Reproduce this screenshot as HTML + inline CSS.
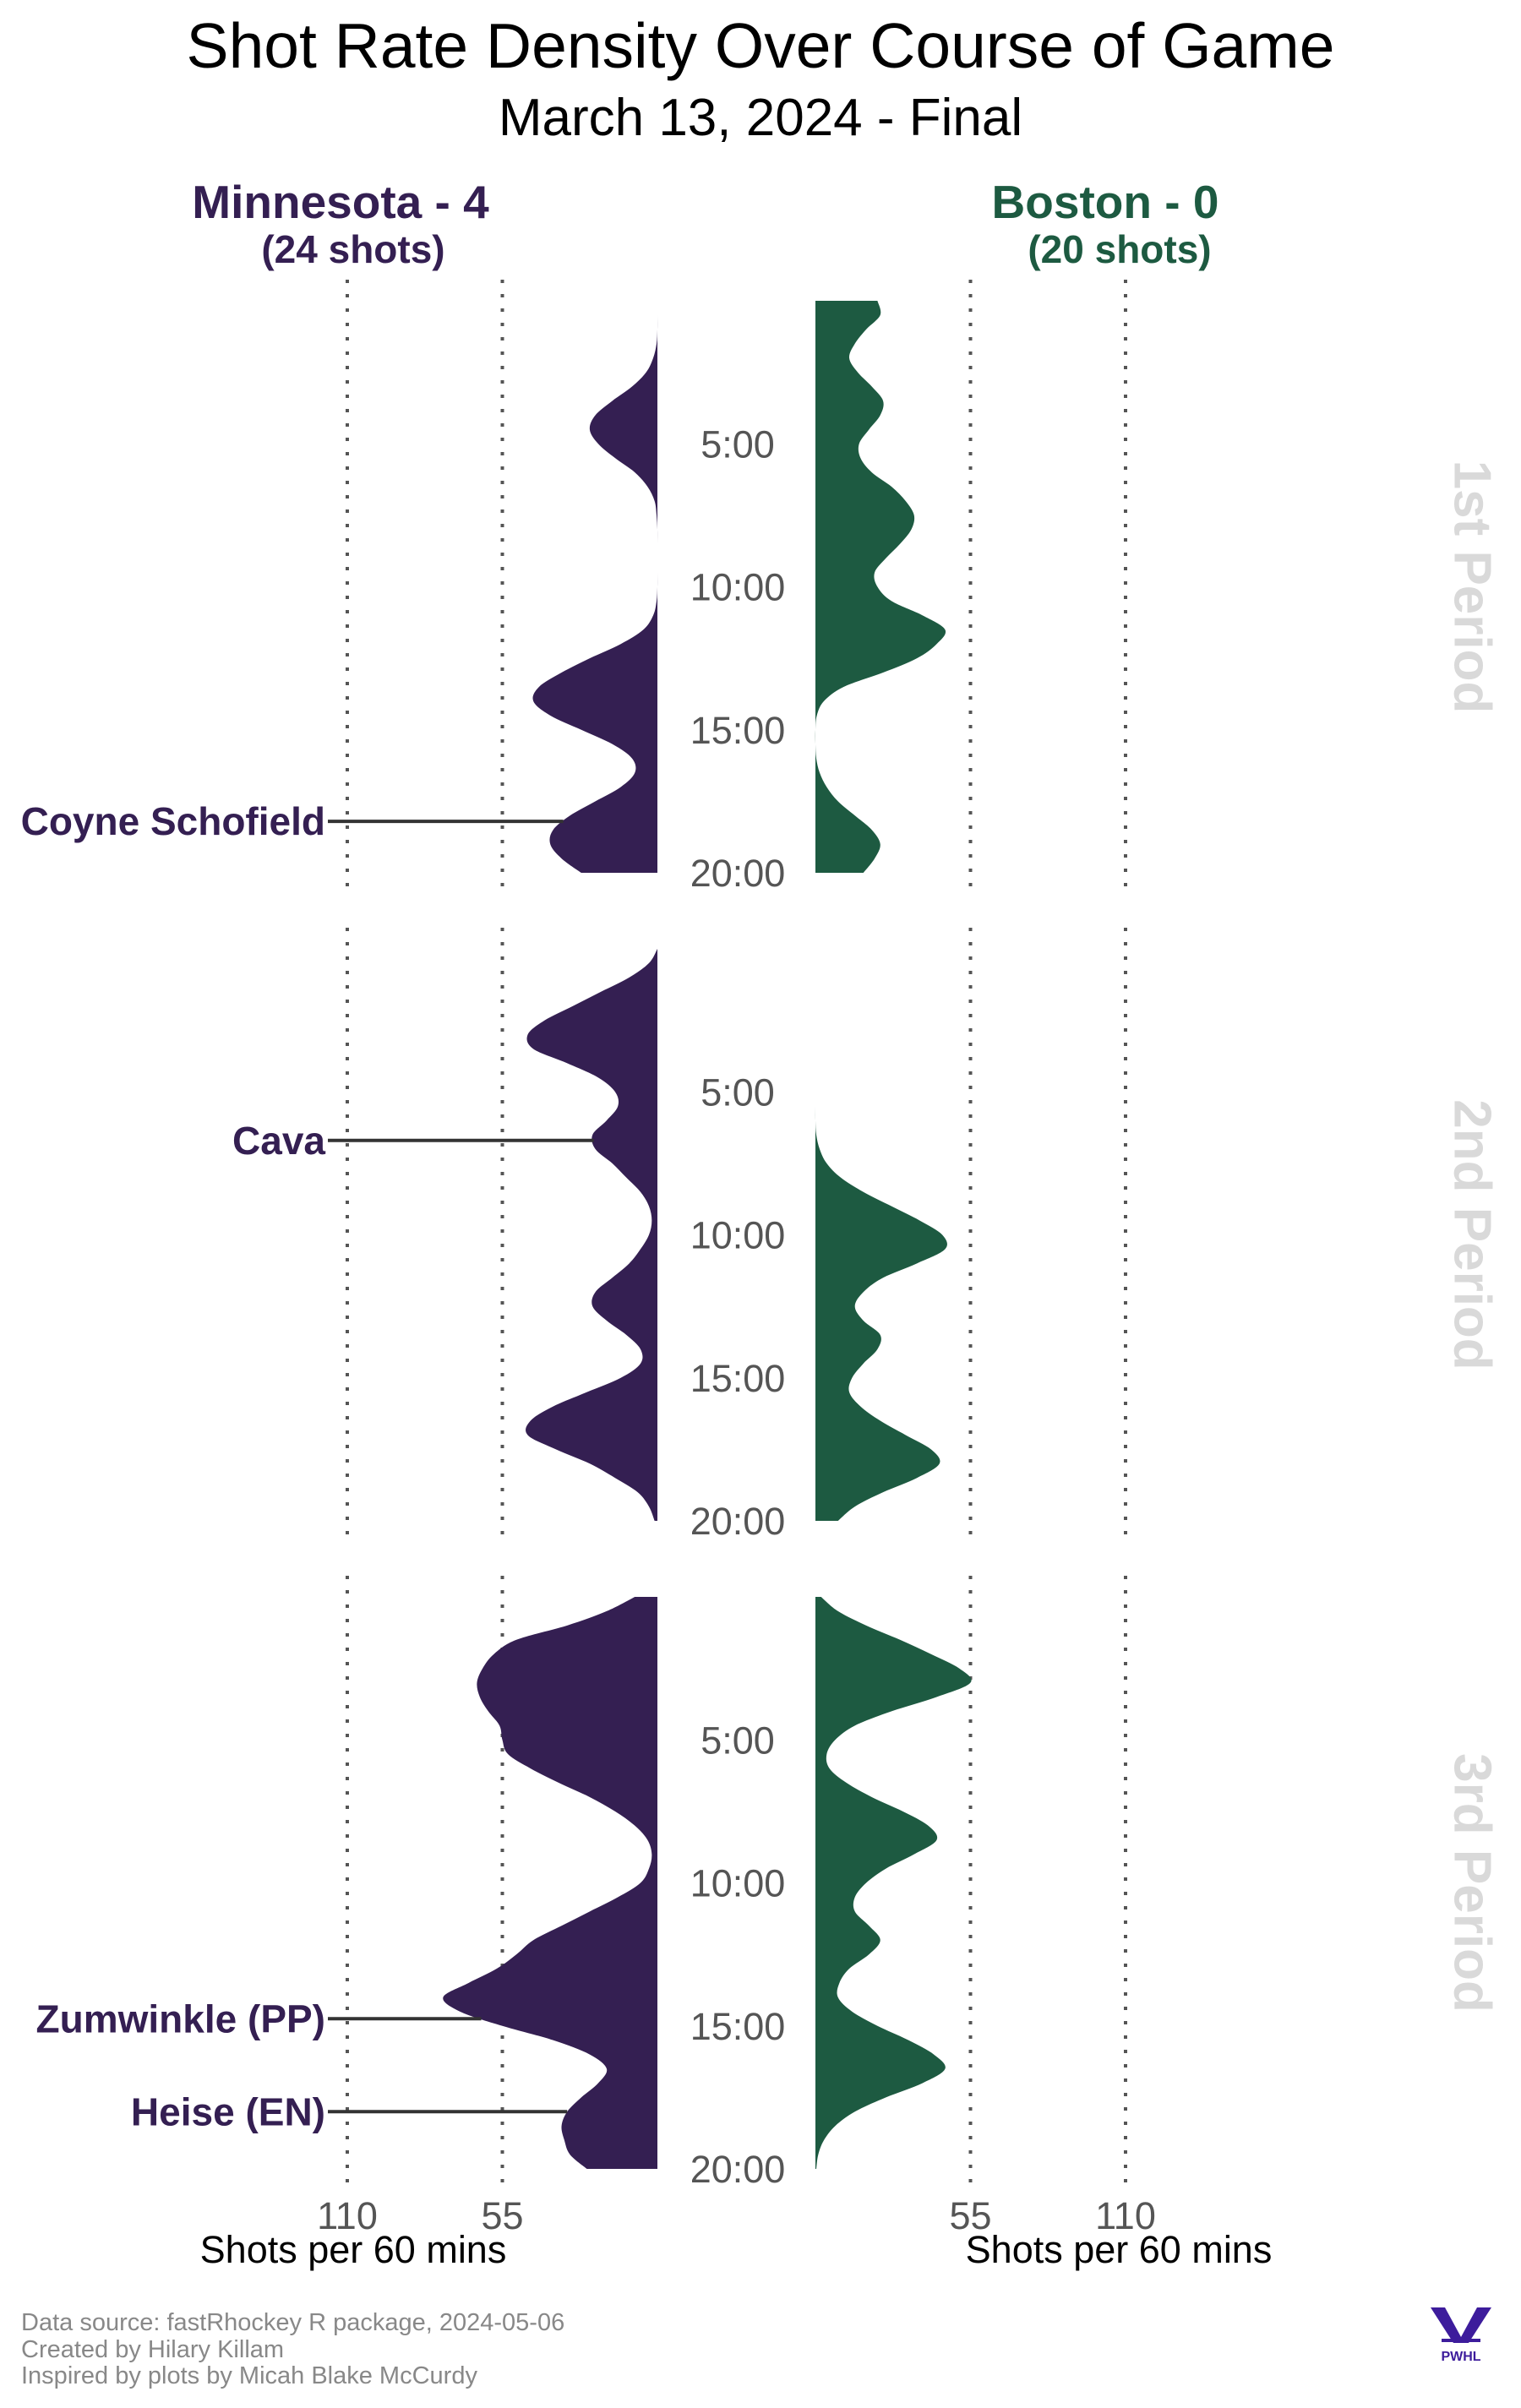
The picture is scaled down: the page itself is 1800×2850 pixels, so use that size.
<!DOCTYPE html>
<html><head><meta charset="utf-8"><style>
html,body{margin:0;padding:0;background:#fff;}
svg{display:block;font-family:"Liberation Sans",sans-serif;}
</style></head><body>
<svg id="chart" width="1800" height="2850" viewBox="0 0 1800 2850" xmlns="http://www.w3.org/2000/svg">
<text x="900" y="80" text-anchor="middle" font-size="75" fill="#000">Shot Rate Density Over Course of Game</text>
<text x="900" y="160" text-anchor="middle" font-size="62" fill="#000">March 13, 2024 - Final</text>
<text x="403" y="258" text-anchor="middle" font-size="55" font-weight="bold" fill="#341f52">Minnesota - 4</text>
<text x="418" y="311" text-anchor="middle" font-size="46" font-weight="bold" fill="#341f52">(24 shots)</text>
<text x="1308" y="258" text-anchor="middle" font-size="55" font-weight="bold" fill="#1d5a41">Boston - 0</text>
<text x="1325" y="311" text-anchor="middle" font-size="46" font-weight="bold" fill="#1d5a41">(20 shots)</text>
<g id="plot"></g>
<text x="418" y="2678" text-anchor="middle" font-size="45" fill="#000">Shots per 60 mins</text>
<text x="1324" y="2678" text-anchor="middle" font-size="45" fill="#000">Shots per 60 mins</text>
<g font-size="29" fill="#888">
<text x="25" y="2758">Data source: fastRhockey R package, 2024-05-06</text>
<text x="25" y="2790">Created by Hilary Killam</text>
<text x="25" y="2821">Inspired by plots by Micah Blake McCurdy</text>
</g>
<g fill="#3d1c9c">
<polygon points="1693,2731 1710,2731 1729,2766 1748,2731 1765,2731 1738,2773 1720,2773"/>
<rect x="1706" y="2768" width="46" height="4"/>
<text x="1729" y="2794" text-anchor="middle" font-size="16" font-weight="bold">PWHL</text>
</g>
</svg>
<script>
const minutes = [0,0.5,1,1.5,2,2.5,3,3.5,4,4.5,5,5.5,6,6.5,7,7.5,8,8.5,9,9.5,10,10.5,11,11.5,12,12.5,13,13.5,14,14.5,15,15.5,16,16.5,17,17.5,18,18.5,19,19.5,20];
const minP1 = [0,0,0,0.3,1.5,4,9,16,22,24,21,15,8,3.5,1,0.3,0,0,0,0,0,0.3,1.5,5,13,24,34,42,44,38,27,16,9,8,13,22,31,37,38,34,27];
const minP2 = [0,3,10,20,30,40,46,44,32,21,15,14,18,23,22,16,11,6,3,2,3,6,10,16,22,23,18,11,6,6,13,25,37,45,46,36,24,15,7,3,1];
const minP3 = [8,18,32,50,58,62,64,63,60,56,55,53,45,35,24,15,8,3.5,2,3,6,14,24,34,44,50,57,67,76,70,55,37,24,18,21,27,32,34,33,31,25];
const bosP1 = [22,23,18,14,12,15,20,24,23,19,15.5,16,20,27,32,35,34,30,25,21,22,27,38,46,43,36,24,10,3,0.5,0,0,0.3,1.5,4,8,14,20,23,21,17];
const bosP2 = [0,0,0,0,0,0,0,0,0,0,0,0,0,0.3,1.5,4,9,17,27,37,45,46,36,24,17,14,17,23,22,17,13,12,16,23,32,41,44,36,24,14,8];
const bosP3 = [2,8,18,30,41,51,55,43,27,14,7,4,5,11,20,31,40,43,35,25,18,14,14,19,23,19,12,8.5,8,13,22,33,42,46,38,25,14,7,3,1,0.3];
const periodNames = ["1st Period","2nd Period","3rd Period"];
const tickTimes = [5,10,15,20];
const tickLabels = ["5:00","10:00","15:00","20:00"];
const gridValues = [55,110];
const gridLabels = ["55","110"];
const goalScorers = ["Coyne Schofield","Cava","Zumwinkle (PP)","Heise (EN)"];
const goalPeriods = [0,1,2,2];
const goalTimes = [18.2,6.7,14.75,18.0];

const NS="http://www.w3.org/2000/svg";
const plot=document.getElementById('plot');
const LBASE=778, RBASE=965, UNIT=183.5/55;
const P_TOP=[356,1123,1890], SPAN=677;
function yScale(p,t){return P_TOP[p]+t/20*SPAN;}
function xLeft(v){return LBASE-v*UNIT;}
function xRight(v){return RBASE+v*UNIT;}
function mk(tag,attrs){const e=document.createElementNS(NS,tag);for(const k in attrs)e.setAttribute(k,attrs[k]);return e;}
function interp(arr,t){const i=Math.min(Math.floor(t/0.5),arr.length-2);const f=(t-minutes[i])/0.5;return arr[i]*(1-f)+arr[i+1]*f;}
function densityPath(p,arr,xf,base){
  const pts=minutes.map((m,i)=>[xf(arr[i]),yScale(p,m)]);
  let d=`M${base},${pts[0][1]} L${pts[0][0]},${pts[0][1]}`;
  for(let i=0;i<pts.length-1;i++){
    const p0=pts[Math.max(i-1,0)],p1=pts[i],p2=pts[i+1],p3=pts[Math.min(i+2,pts.length-1)];
    const c1x=p1[0]+(p2[0]-p0[0])/6,c1y=p1[1]+(p2[1]-p0[1])/6;
    const c2x=p2[0]-(p3[0]-p1[0])/6,c2y=p2[1]-(p3[1]-p1[1])/6;
    d+=` C${c1x},${c1y} ${c2x},${c2y} ${p2[0]},${p2[1]}`;
  }
  d+=` L${base},${pts[pts.length-1][1]} Z`;
  return d;
}
const minArr=[minP1,minP2,minP3], bosArr=[bosP1,bosP2,bosP3];
for(let p=0;p<3;p++){
  const top=P_TOP[p]-25,bot=P_TOP[p]+SPAN+25;
  gridValues.forEach((v,j)=>{
    const gl=mk('line',{x1:xLeft(v),x2:xLeft(v),y1:top,y2:bot,stroke:'#555','stroke-width':4,'stroke-dasharray':'4 13'});
    
    
    plot.appendChild(gl);
    const gr=mk('line',{x1:xRight(v),x2:xRight(v),y1:top,y2:bot,stroke:'#555','stroke-width':4,'stroke-dasharray':'4 13'});
    
    
    plot.appendChild(gr);
  });
  const pm=mk('path',{d:densityPath(p,minArr[p],xLeft,LBASE),fill:'#341f52'});
  
  
  plot.appendChild(pm);
  const pb=mk('path',{d:densityPath(p,bosArr[p],xRight,RBASE),fill:'#1d5a41'});
  
  
  plot.appendChild(pb);
  tickTimes.forEach((t,j)=>{
    const tx=mk('text',{x:873,y:yScale(p,t)+16,'text-anchor':'middle','font-size':45,fill:'#555'});
    tx.textContent=tickLabels[j];
    
    
    plot.appendChild(tx);
  });
  const cy=P_TOP[p]+SPAN/2;
  const pl=mk('text',{x:1742,y:cy,'text-anchor':'middle','font-size':62,'font-weight':'bold',fill:'#d9d9d9',transform:`rotate(90 1742 ${cy})`,'dominant-baseline':'central'});
  pl.textContent=periodNames[p];
  
  
  plot.appendChild(pl);
}
goalScorers.forEach((name,i)=>{
  const p=goalPeriods[i],t=goalTimes[i],y=yScale(p,t);
  const ln=mk('line',{x1:388,x2:xLeft(interp(minArr[p],t)),y1:y,y2:y,stroke:'#333','stroke-width':4});
  
  
  plot.appendChild(ln);
  const tx=mk('text',{x:385,y:y+16,'text-anchor':'end','font-size':46,'font-weight':'bold',fill:'#341f52'});
  tx.textContent=name;
  
  
  plot.appendChild(tx);
});
gridValues.forEach((v,j)=>{
  const a=mk('text',{x:xLeft(v),y:2638,'text-anchor':'middle','font-size':45,fill:'#555'});
  a.textContent=gridLabels[j];
  
  
  plot.appendChild(a);
  const b=mk('text',{x:xRight(v),y:2638,'text-anchor':'middle','font-size':45,fill:'#555'});
  b.textContent=gridLabels[j];
  
  
  plot.appendChild(b);
});
</script>
</body></html>
